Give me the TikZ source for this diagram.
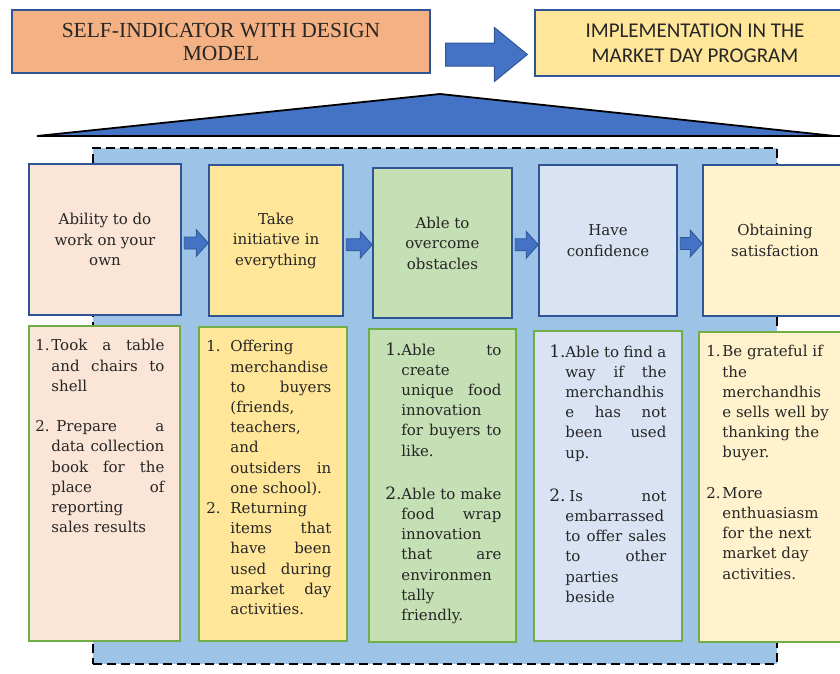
\documentclass[tikz,border=0pt]{standalone}
\usepackage{fontspec}
\setmainfont{DejaVu Serif}
\newfontfamily\titleserif{Liberation Serif}
\newfontfamily\titlesans{Carlito}
\usepackage{xcolor}
\usetikzlibrary{calc,positioning}
\definecolor{hdrorange}{HTML}{F4B183}
\definecolor{hdryellow}{HTML}{FFE699}
\definecolor{accblue}{HTML}{4472C4}
\definecolor{edgeblue}{HTML}{2F5597}
\definecolor{panelblue}{HTML}{9DC3E6}
\definecolor{edgegreen}{HTML}{70AD47}
\definecolor{fillpink}{HTML}{FBE5D6}
\definecolor{fillyellow}{HTML}{FFE699}
\definecolor{fillgreen}{HTML}{C5E0B4}
\definecolor{filllav}{HTML}{DAE3F3}
\definecolor{fillcream}{HTML}{FFF2CC}
\definecolor{txtgray}{HTML}{262626}
\hbadness=10000
\hfuzz=6pt
\newlength{\numw}
\newlength{\colw}
\newcommand{\jl}[2]{\makebox[\numw][l]{#1}\makebox[\colw][s]{#2}}
\newcommand{\rl}[2]{\makebox[\numw][l]{#1}\makebox[\colw][l]{#2}}
\newcommand{\bignum}[1]{{\fontsize{17}{20}\selectfont #1}}

\begin{document}
\begin{tikzpicture}[x=1pt, y=-1pt,
    hdr/.style={rectangle, draw=edgeblue, line width=1.3pt, align=center, inner sep=0pt,
        text=txtgray},
    roof/.style={fill=accblue, draw=black, line width=1.8pt, line join=miter},
    panel/.style={rectangle, draw=black, fill=panelblue, line width=2pt,
        dash pattern=on 9pt off 5pt},
    ubox/.style={rectangle, draw=edgeblue, line width=1.6pt, align=center, inner sep=0pt,
        text=txtgray, font=\fontsize{15}{20.5}\selectfont},
    lbox/.style={rectangle, draw=edgegreen, line width=1.6pt, inner sep=0pt},
    listtxt/.style 2 args={anchor=north west, inner sep=0pt, align=left, text=txtgray,
        font=\fontsize{15}{20.2}\selectfont,
        execute at begin node={\setlength{\numw}{#1}\setlength{\colw}{#2}}},
    bigarr/.style={fill=accblue, draw=edgeblue, line width=1pt},
    smallarr/.style={fill=accblue, draw=edgeblue, line width=0.8pt}
]
    \useasboundingbox (0,0) rectangle (840,673);
    \clip (0,0) rectangle (840,673);

    % Headers
    \node[hdr, fill=hdrorange, minimum width=418pt, minimum height=63pt,
        font=\titleserif\fontsize{21.5}{23}\selectfont] (model) at (221,41.5)
        {SELF-INDICATOR WITH DESIGN\\MODEL};
    \node[hdr, fill=hdryellow, minimum width=320pt, minimum height=66pt,
        font=\titlesans\fontsize{21}{25}\selectfont] (program) at (695,43)
        {IMPLEMENTATION IN THE\\MARKET DAY PROGRAM};
    \draw[bigarr] let \p1=(model.east), \p2=(program.west) in
        (\x1+15pt,\y1-1.5pt) -- (\x2-40pt,\y1-1.5pt) -- (\x2-40pt,\y1+14pt)
        -- (\x2-7pt,\y1-13pt) -- (\x2-40pt,\y1-40pt) -- (\x2-40pt,\y1-24.5pt)
        -- (\x1+15pt,\y1-24.5pt) -- cycle;

    % Roof
    \draw[roof] (37,136) -- (440,94) -- (835,136) -- (850,136) -- cycle;

    % Background panel
    \node[panel, minimum width=684pt, minimum height=516pt] (back) at (435,406) {};

    % Indicators
    \node[ubox, fill=fillpink, minimum width=152pt, minimum height=151pt] (u1) at (105,239.5)
        {Ability to do\\work on your\\own};
    \node[ubox, fill=fillyellow, minimum width=134pt, minimum height=151pt] (u2) at (276,240.5)
        {Take\\initiative in\\everything};
    \node[ubox, fill=fillgreen, minimum width=139pt, minimum height=150pt] (u3) at (442.5,243)
        {Able to\\overcome\\obstacles};
    \node[ubox, fill=filllav, minimum width=138pt, minimum height=151pt] (u4) at (608,240.5)
        {Have\\confidence};
    \node[ubox, fill=fillcream, minimum width=144pt, minimum height=151pt] (u5) at (775,240.5)
        {Obtaining\\satisfaction};

    \foreach \fa/\fb in {u1/u2,u2/u3,u3/u4,u4/u5}
        \draw[smallarr] let \p1=(\fa.east), \p2=(\fb.west),
            \p3=($(\fa.east)!0.5!(\fb.west)$) in
            (\x1+2.5pt,\y3+3pt) -- (\x2-12pt,\y3+3pt) -- (\x2-12pt,\y3+10.5pt)
            -- (\x2,\y3-3pt) -- (\x2-12pt,\y3-16.5pt) -- (\x2-12pt,\y3-9pt)
            -- (\x1+2.5pt,\y3-9pt) -- cycle;

    % Implementation
    \node[lbox, fill=fillpink, minimum width=151pt, minimum height=315pt] (l1) at (104.5,483.5) {};
    \node[lbox, fill=fillyellow, minimum width=148pt, minimum height=314pt] (l2) at (273,484) {};
    \node[lbox, fill=fillgreen, minimum width=147pt, minimum height=313pt] (l3) at (442.5,485.5) {};
    \node[lbox, fill=filllav, minimum width=148pt, minimum height=310pt] (l4) at (608,486) {};
    \node[lbox, fill=fillcream, minimum width=151pt, minimum height=310pt] (l5) at (774.5,487) {};

    \node[listtxt={16pt}{113pt}] (t1) at ($(l1.north west)+(7,14)$)
        {\jl{1.}{Took a table}\\
         \jl{}{and chairs to}\\
         \rl{}{shell}\\[20.2pt]
         \jl{2.}{\hspace*{5pt}Prepare a}\\
         \jl{}{data collection}\\
         \jl{}{book for the}\\
         \jl{}{place of}\\
         \rl{}{reporting}\\
         \rl{}{sales results}};
    \node[listtxt={24pt}{101pt}] (t2) at ($(l2.north west)+(8,14)$)
        {\rl{1.}{Offering}\\
         \rl{}{merchandise}\\
         \jl{}{to buyers}\\
         \rl{}{(friends,}\\
         \rl{}{teachers,}\\
         \rl{}{and}\\
         \jl{}{outsiders in}\\
         \rl{}{one school).}\\
         \rl{2.}{Returning}\\
         \jl{}{items that}\\
         \jl{}{have been}\\
         \jl{}{used during}\\
         \jl{}{market day}\\
         \rl{}{activities.}};
    \node[listtxt={16pt}{100pt}] (t3) at ($(l3.north west)+(17,14)$)
        {\jl{\bignum{1.}}{Able to}\\
         \rl{}{create}\\
         \jl{}{unique food}\\
         \rl{}{innovation}\\
         \jl{}{for buyers to}\\
         \rl{}{like.}\\[23pt]
         \jl{\bignum{2.}}{Able to make}\\
         \jl{}{food wrap}\\
         \rl{}{innovation}\\
         \jl{}{that are}\\
         \rl{}{environmen}\\
         \rl{}{tally}\\
         \rl{}{friendly.}};
    \node[listtxt={16pt}{101pt}] (t4) at ($(l4.north west)+(16,14)$)
        {\jl{\bignum{1.}}{Able to find a}\\
         \jl{}{way if the}\\
         \rl{}{merchandhis}\\
         \jl{}{e has not}\\
         \jl{}{been used}\\
         \rl{}{up.}\\[23pt]
         \jl{\bignum{2.}}{\hspace*{4pt}Is not}\\
         \rl{}{embarrassed}\\
         \jl{}{to offer sales}\\
         \jl{}{to other}\\
         \rl{}{parties}\\
         \rl{}{beside}};
    \node[listtxt={16pt}{110pt}] (t5) at ($(l5.north west)+(8,14)$)
        {\rl{1.}{Be grateful if}\\
         \rl{}{the}\\
         \rl{}{merchandhis}\\
         \rl{}{e sells well by}\\
         \rl{}{thanking the}\\
         \rl{}{buyer.}\\[20.2pt]
         \rl{2.}{More}\\
         \rl{}{enthuasiasm}\\
         \rl{}{for the next}\\
         \rl{}{market day}\\
         \rl{}{activities.}};
\end{tikzpicture}
\end{document}
